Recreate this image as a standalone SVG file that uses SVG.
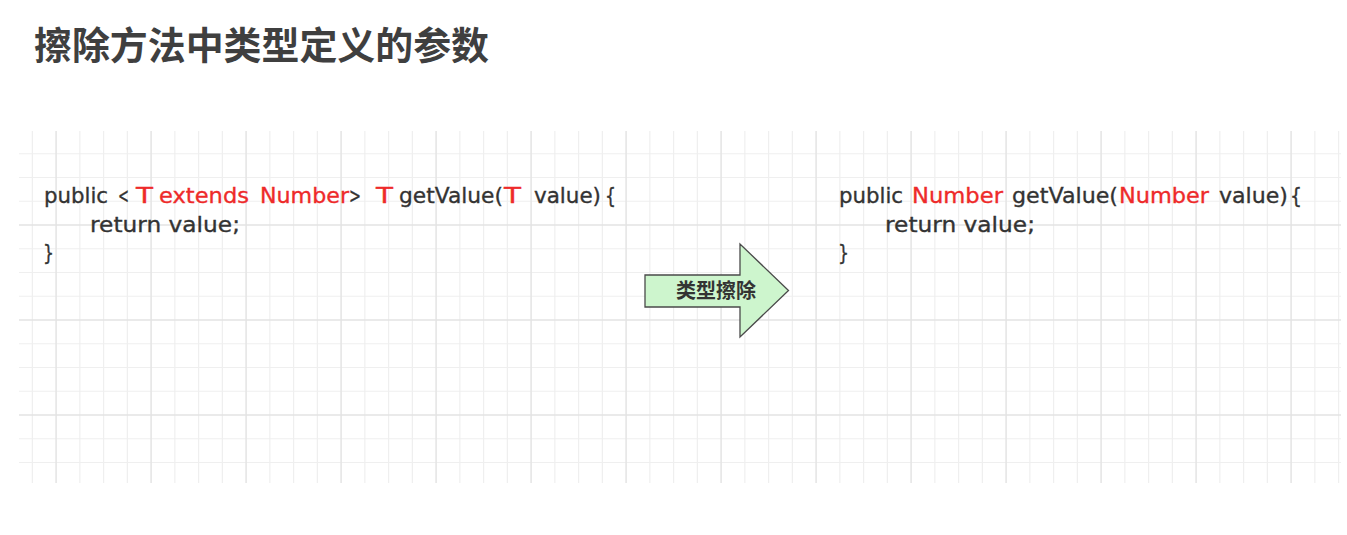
<svg xmlns="http://www.w3.org/2000/svg" width="1347" height="535" viewBox="0 0 1347 535">
<style>
.minor{fill:none;stroke:#efefef;stroke-width:1.2}
.major{fill:none;stroke:#e4e4e4;stroke-width:1.5}
.title{font-family:"Noto Sans CJK SC","Noto Sans",sans-serif;font-weight:700;font-size:38px;fill:#3f3f3f}
.code{font-family:"DejaVu Sans","Noto Sans",sans-serif;font-size:22px;fill:#333333;stroke:#333333;stroke-width:0.35}
.red{fill:#ee2a2a;stroke:#ee2a2a}
.arrow{fill:#cdf5cd;stroke:#4a4a4a;stroke-width:1.3;stroke-linejoin:miter}
.alabel{font-family:"Noto Sans CJK SC","Noto Sans",sans-serif;font-weight:700;font-size:20px;fill:#333333}
</style>
<rect width="1347" height="535" fill="#ffffff"/>
<g id="grid">
<path class="minor" d="M32.35 131V483M79.85 131V483M103.6 131V483M127.35 131V483M174.85 131V483M198.6 131V483M222.35 131V483M269.85 131V483M293.6 131V483M317.35 131V483M364.85 131V483M388.6 131V483M412.35 131V483M459.85 131V483M483.6 131V483M507.35 131V483M554.85 131V483M578.6 131V483M602.35 131V483M649.85 131V483M673.6 131V483M697.35 131V483M744.85 131V483M768.6 131V483M792.35 131V483M839.85 131V483M863.6 131V483M887.35 131V483M934.85 131V483M958.6 131V483M982.35 131V483M1029.85 131V483M1053.6 131V483M1077.35 131V483M1124.85 131V483M1148.6 131V483M1172.35 131V483M1219.85 131V483M1243.6 131V483M1267.35 131V483M1314.85 131V483M1338.6 131V483M19 153.75H1341M19 177.5H1341M19 201.25H1341M19 248.75H1341M19 272.5H1341M19 296.25H1341M19 343.75H1341M19 367.5H1341M19 391.25H1341M19 438.75H1341M19 462.5H1341"/>
<path class="major" d="M56.1 131V483M151.1 131V483M246.1 131V483M341.1 131V483M436.1 131V483M531.1 131V483M626.1 131V483M721.1 131V483M816.1 131V483M911.1 131V483M1006.1 131V483M1101.1 131V483M1196.1 131V483M1291.1 131V483M19 225H1341M19 320H1341M19 415H1341"/>
</g>
<g id="title">
<text class="title" x="34" y="58.5" textLength="455" lengthAdjust="spacingAndGlyphs">擦除方法中类型定义的参数</text>
</g>
<g id="code-before">
<text class="code" x="44" y="203" textLength="64" lengthAdjust="spacingAndGlyphs">public</text>
<text class="code" x="118" y="203" textLength="11" lengthAdjust="spacingAndGlyphs">&lt;</text>
<text class="code red" x="136" y="203" textLength="17" lengthAdjust="spacingAndGlyphs">T</text>
<text class="code red" x="159" y="203" textLength="90" lengthAdjust="spacingAndGlyphs">extends</text>
<text class="code red" x="260" y="203" textLength="89" lengthAdjust="spacingAndGlyphs">Number</text>
<text class="code" x="349" y="203" textLength="12" lengthAdjust="spacingAndGlyphs">&gt;</text>
<text class="code red" x="376" y="203" textLength="17" lengthAdjust="spacingAndGlyphs">T</text>
<text class="code" x="399" y="203" textLength="104" lengthAdjust="spacingAndGlyphs">getValue(</text>
<text class="code red" x="504" y="203" textLength="17" lengthAdjust="spacingAndGlyphs">T</text>
<text class="code" x="534" y="203" textLength="67" lengthAdjust="spacingAndGlyphs">value)</text>
<text class="code" x="605" y="203" textLength="11" lengthAdjust="spacingAndGlyphs">{</text>
<text class="code" x="90" y="231.5" textLength="150" lengthAdjust="spacingAndGlyphs">return value;</text>
<text class="code" x="43" y="260" textLength="11" lengthAdjust="spacingAndGlyphs">}</text>
</g>
<g id="connectors">
<g id="erase-arrow">
<path class="arrow" d="M645 275H740V244L788.5 290.5L740 337V307H645Z"/>
<text class="alabel" x="716" y="298" text-anchor="middle">类型擦除</text>
</g>
</g>
<g id="code-after">
<text class="code" x="839" y="203" textLength="64" lengthAdjust="spacingAndGlyphs">public</text>
<text class="code red" x="912" y="203" textLength="91" lengthAdjust="spacingAndGlyphs">Number</text>
<text class="code" x="1012" y="203" textLength="106" lengthAdjust="spacingAndGlyphs">getValue(</text>
<text class="code red" x="1119" y="203" textLength="90" lengthAdjust="spacingAndGlyphs">Number</text>
<text class="code" x="1219" y="203" textLength="69" lengthAdjust="spacingAndGlyphs">value)</text>
<text class="code" x="1290" y="203" textLength="12" lengthAdjust="spacingAndGlyphs">{</text>
<text class="code" x="885" y="231.5" textLength="150" lengthAdjust="spacingAndGlyphs">return value;</text>
<text class="code" x="838" y="260" textLength="11" lengthAdjust="spacingAndGlyphs">}</text>
</g>
</svg>
